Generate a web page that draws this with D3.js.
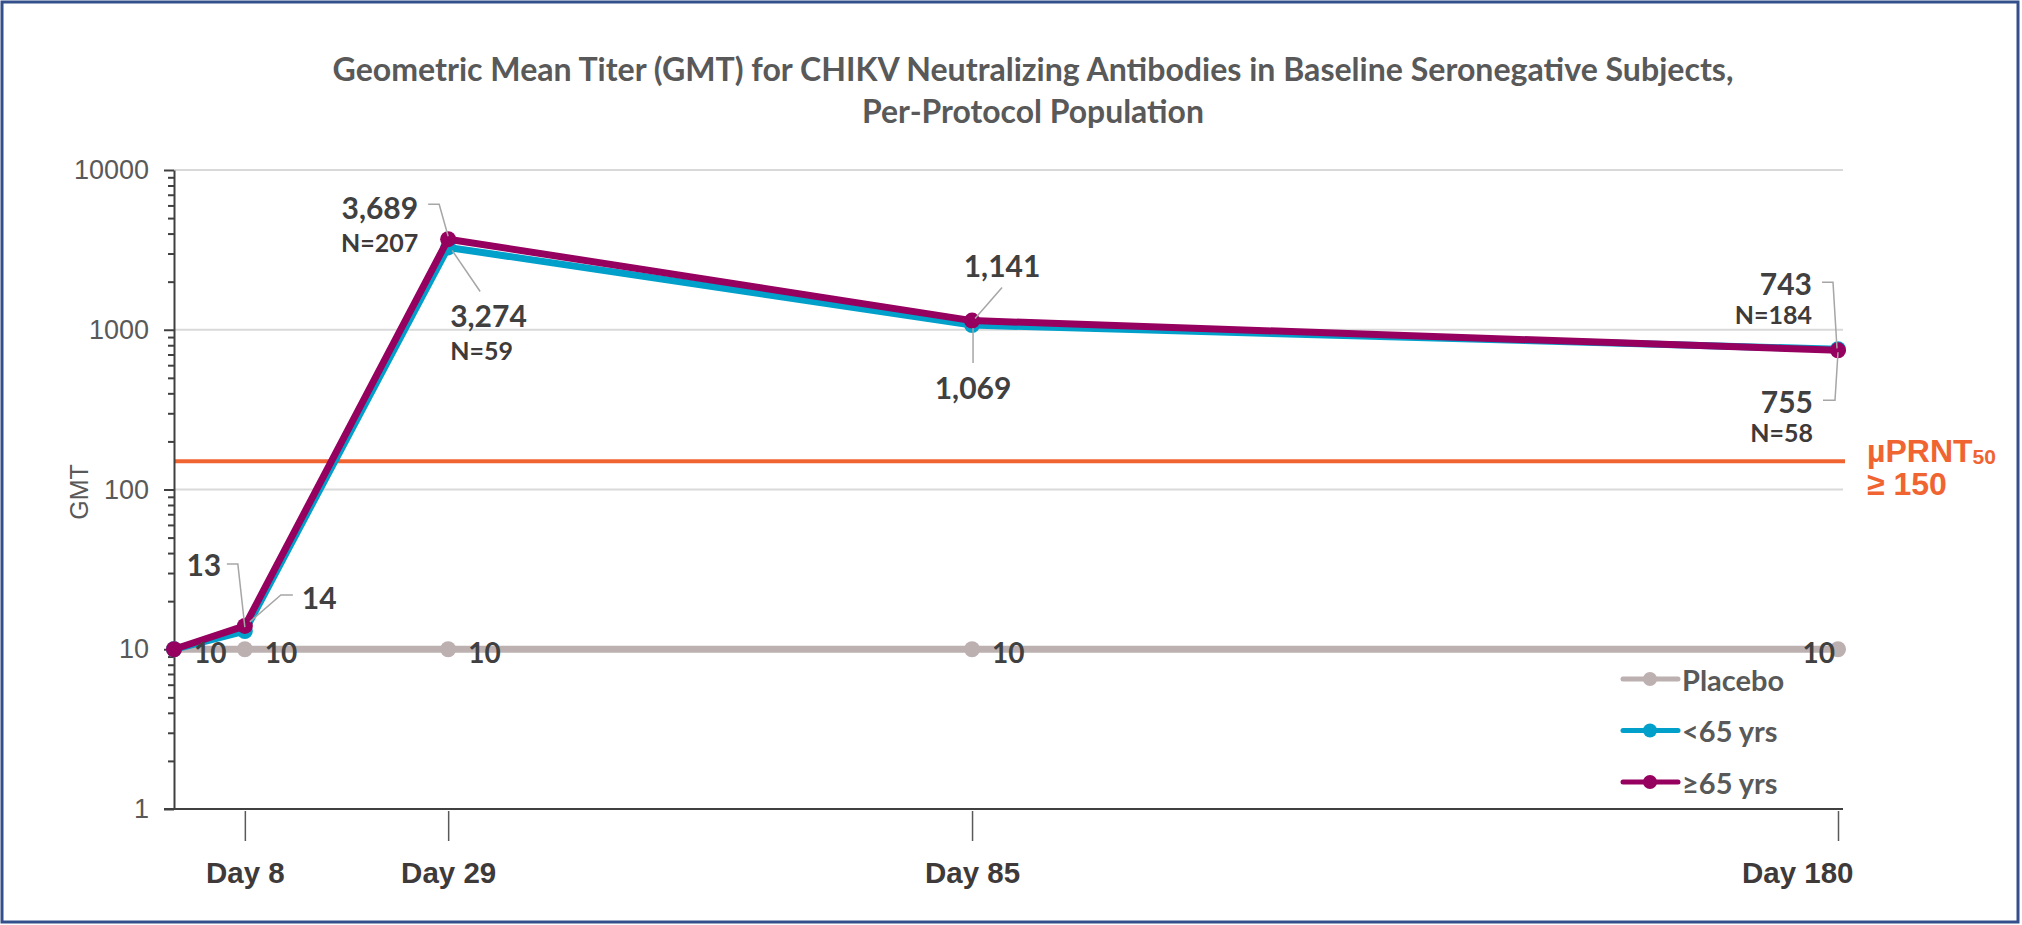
<!DOCTYPE html>
<html>
<head>
<meta charset="utf-8">
<script src="https://cdn.jsdelivr.net/npm/d3@7"></script>
<style>
  html, body { margin: 0; padding: 0; background: #fff; }
  svg { display: block; }
</style>
</head>
<body>
<svg id="chart" width="2022" height="925"></svg>
<script>
// values
const days = [1, 8, 29, 85, 180];
const dayTicks = [8, 29, 85, 180];
const dayLabels = ['Day 8', 'Day 29', 'Day 85', 'Day 180'];
const yTicks = [1, 10, 100, 1000, 10000];
const gridTicks = [10, 100, 1000, 10000];
const seriesNames = ['Placebo', '<65 yrs', '≥65 yrs'];
const placebo = [10, 10, 10, 10, 10];
const under65 = [10, 13, 3274, 1069, 755];
const over65 = [10, 14, 3689, 1141, 743];
const under65N = [null, null, 59, null, 58];
const over65N = [null, null, 207, null, 184];
const threshold = 150;
const titleLines = [
  'Geometric Mean Titer (GMT) for CHIKV Neutralizing Antibodies in Baseline Seronegative Subjects,',
  'Per-Protocol Population'
];

const colors = { placebo: '#bdb0b0', under: '#00a0cb', over: '#96005f', thr: '#f06432' };
const textDark = '#404040';
const textGray = '#595959';

const svg = d3.select('#chart');
// the source axis is slightly compressed toward later visits
const x = d3.scalePow().exponent(0.97).domain([1, 180]).range([174, 1838]);
const y = d3.scaleLog().domain([1, 10000]).range([809, 170]);

// frame
svg.append('rect')
    .attr('x', 2).attr('y', 2).attr('width', 2016).attr('height', 920)
    .attr('fill', '#fff').attr('stroke', '#34508c').attr('stroke-width', 3);

// title, sized to the reference width
const titleWidths = [1401, 342];
titleLines.forEach((t, i) => {
  const el = svg.append('text')
      .attr('x', 1033).attr('y', 81 + i * 42)
      .attr('text-anchor', 'middle')
      .attr('font-family', 'Lato, sans-serif').attr('font-weight', 700)
      .attr('font-size', 28).attr('fill', textGray)
      .text(t);
  const len = el.node().getComputedTextLength();
  el.attr('font-size', 28 * titleWidths[i] / len);
});

// gridlines
svg.append('g').selectAll('line').data(gridTicks).enter().append('line')
    .attr('x1', x(1)).attr('x2', 1843)
    .attr('y1', d => y(d)).attr('y2', d => y(d))
    .attr('stroke', '#d9d9d9').attr('stroke-width', 2);

// threshold line
svg.append('line')
    .attr('x1', x(1)).attr('x2', 1845)
    .attr('y1', y(threshold)).attr('y2', y(threshold))
    .attr('stroke', colors.thr).attr('stroke-width', 4);

const thrLabel = svg.append('text')
    .attr('x', 1867).attr('y', y(threshold) + 1)
    .attr('font-family', 'Liberation Sans, Arial, sans-serif').attr('font-weight', 700)
    .attr('font-size', 32).attr('fill', colors.thr);
thrLabel.append('tspan').text('µPRNT');
thrLabel.append('tspan').attr('font-size', 21).attr('dy', 2).text('50');
svg.append('text')
    .attr('x', 1867).attr('y', y(threshold) + 34)
    .attr('font-family', 'Liberation Sans, Arial, sans-serif').attr('font-weight', 700)
    .attr('font-size', 32).attr('fill', colors.thr)
    .text('≥ 150');

// y axis: minor ticks then major ticks with labels
const minor = [];
[1, 10, 100, 1000].forEach(p => { for (let k = 2; k < 10; k++) minor.push(p * k); });
svg.append('g').attr('transform', `translate(${x(1)},0)`)
    .call(d3.axisLeft(y).tickValues(minor).tickSize(6).tickFormat(''))
    .call(g => g.select('.domain').remove())
    .call(g => g.selectAll('line').attr('stroke', '#404040').attr('stroke-width', 2));
const yAxis = svg.append('g').attr('transform', `translate(${x(1)},0)`)
    .call(d3.axisLeft(y).tickValues(yTicks).tickFormat(d3.format('d')).tickSize(10).tickPadding(15).tickSizeOuter(0));
yAxis.select('.domain').attr('stroke', '#404040').attr('stroke-width', 2);
yAxis.selectAll('line').attr('stroke', '#404040').attr('stroke-width', 2);
yAxis.selectAll('text')
    .attr('font-family', 'Liberation Sans, Arial, sans-serif')
    .attr('font-size', 27).attr('fill', textGray);

svg.append('text')
    .attr('transform', 'translate(88,492) rotate(-90)')
    .attr('text-anchor', 'middle')
    .attr('font-family', 'Liberation Sans, Arial, sans-serif')
    .attr('font-size', 25).attr('fill', textGray)
    .text('GMT');

// x axis
svg.append('line')
    .attr('x1', x(1) - 10).attr('x2', 1843)
    .attr('y1', y(1)).attr('y2', y(1))
    .attr('stroke', '#404040').attr('stroke-width', 2);
const xAxis = svg.append('g').attr('transform', `translate(0,${y(1) + 2})`)
    .call(d3.axisBottom(x).tickValues(dayTicks)
      .tickFormat((d, i) => dayLabels[i]).tickSize(30).tickPadding(21).tickSizeOuter(0));
xAxis.select('.domain').remove();
xAxis.selectAll('line').attr('stroke', '#595959').attr('stroke-width', 1.5);
xAxis.selectAll('text')
    .attr('font-family', 'Liberation Sans, Arial, sans-serif').attr('font-weight', 700)
    .attr('font-size', 29.5).attr('fill', '#3f3a3a');
// last label sits flush with the plot edge, as in the source
xAxis.selectAll('.tick').filter(d => d === 180).select('text')
    .attr('text-anchor', 'end').attr('x', 15);

// series
const line = d3.line().x((d, i) => x(days[i])).y(d => y(d));
const series = [
  { values: placebo, color: colors.placebo },
  { values: under65, color: colors.under },
  { values: over65, color: colors.over }
];
series.forEach(s => {
  const g = svg.append('g');
  g.append('path').datum(s.values)
      .attr('d', line).attr('fill', 'none')
      .attr('stroke', s.color).attr('stroke-width', 7).attr('stroke-linejoin', 'round');
  g.selectAll('circle').data(s.values).enter().append('circle')
      .attr('cx', (d, i) => x(days[i])).attr('cy', d => y(d))
      .attr('r', 8).attr('fill', s.color);
});

// label layout, offsets from each point: [dx, dy, anchor, leader points]
const underLayout = [
  null,
  [-41, -67, 'middle', [[-18, -67], [-7, -67], [0, -4]]],
  [2, 68, 'start', [[4, 3], [32, 44]]],
  [1, 62, 'middle', [[1, 3], [1, 38]]],
  [-25, 52, 'end', [[-15, 51], [-3, 51], [0, 3]]]
];
const overLayout = [
  null,
  [57, -29, 'start', [[5, -4], [36, -31], [48, -31]]],
  [-30, -32, 'end', [[-20, -35], [-9, -35], [0, -3]]],
  [30, -56, 'middle', [[30, -33], [3, -2]]],
  [-26, -67, 'end', [[-16, -68], [-5, -68], [-1, -2]]]
];
const nOffset = [null, null, 35, null, 31];

const fmt = d3.format(',');
const labels = svg.append('g');

function drawLabels(values, ns, layout) {
  values.forEach((v, i) => {
    const l = layout[i];
    if (!l) return;
    const px = x(days[i]), py = y(v);
    labels.append('path')
        .attr('d', d3.line()(l[3].map(p => [px + p[0], py + p[1]])))
        .attr('fill', 'none').attr('stroke', '#a6a6a6').attr('stroke-width', 1.5);
    labels.append('text')
        .attr('x', px + l[0]).attr('y', py + l[1])
        .attr('text-anchor', l[2]).attr('dominant-baseline', 'central')
        .attr('font-family', 'Lato, sans-serif').attr('font-weight', 700)
        .attr('font-size', 30).attr('fill', textDark)
        .text(fmt(v));
    if (ns[i]) {
      labels.append('text')
          .attr('x', px + l[0]).attr('y', py + l[1] + nOffset[i])
          .attr('text-anchor', l[2]).attr('dominant-baseline', 'central')
          .attr('font-family', 'Lato, sans-serif').attr('font-weight', 700)
          .attr('font-size', 25).attr('fill', '#3f3a3a')
          .text('N=' + ns[i]);
    }
  });
}
drawLabels(under65, under65N, underLayout);
drawLabels(over65, over65N, overLayout);

// placebo value labels
placebo.forEach((v, i) => {
  const last = i === placebo.length - 1;
  labels.append('text')
      .attr('x', x(days[i]) + (last ? -3 : 20)).attr('y', y(v) + 3)
      .attr('text-anchor', last ? 'end' : 'start').attr('dominant-baseline', 'central')
      .attr('font-family', 'Lato, sans-serif').attr('font-weight', 700)
      .attr('font-size', 28).attr('fill', textDark)
      .text(fmt(v));
});

// legend
const legend = svg.append('g').attr('transform', 'translate(1623,679)');
[colors.placebo, colors.under, colors.over].forEach((c, i) => {
  const row = legend.append('g').attr('transform', `translate(0,${i * 51.5})`);
  row.append('line').attr('x1', 0).attr('x2', 55)
      .attr('stroke', c).attr('stroke-width', 5).attr('stroke-linecap', 'round');
  row.append('circle').attr('cx', 27).attr('r', 7).attr('fill', c);
  row.append('text').attr('x', 59).attr('dominant-baseline', 'central')
      .attr('font-family', 'Lato, sans-serif').attr('font-weight', 700)
      .attr('font-size', 29).attr('fill', textGray)
      .text(seriesNames[i]);
});
</script>
</body>
</html>
